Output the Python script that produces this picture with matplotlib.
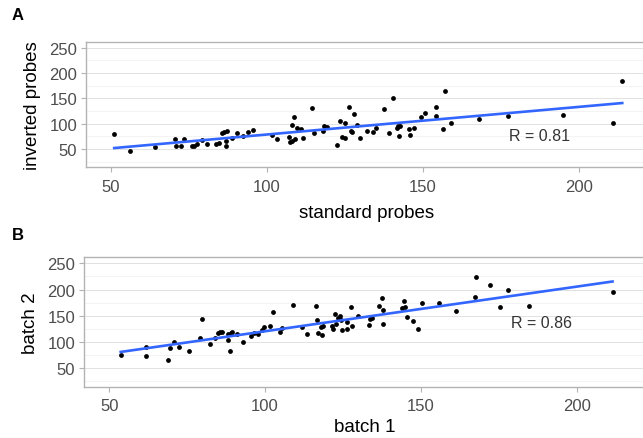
import numpy as np
import matplotlib
matplotlib.use("Agg")
import matplotlib.pyplot as plt
from matplotlib.ticker import MultipleLocator

plt.rcParams['font.family'] = ['Liberation Sans', 'DejaVu Sans']

# panel A: standard vs inverted probes
std_x = [51, 56, 64, 70.5, 70.7, 72.3, 73.4, 75.9, 76.7, 77.7, 79, 80.8, 83.6, 84.6,
         85.7, 86.3, 87.1, 87, 87, 88.7, 90.4, 92.3, 94, 95.4, 101.5, 103.1,
         107.1, 107.4, 107.9, 108.1, 108.7, 109, 109.5, 110.8, 111.6, 114.3, 115.2,
         118, 118.3, 119.1, 122.3, 123.4, 123.9, 125, 125, 126.4, 126.9, 127.3, 128,
         128.7, 129.8, 131.9, 134, 134.8, 137.5, 139.1, 140.4, 141.6, 142.1, 142.6,
         142.3, 145.6, 145.8, 147.1, 149.3, 150.5, 154.1, 154.2, 156.5, 157.2, 158.9,
         168, 177.4, 195, 210.9, 213.9]
inv_y = [80, 46, 53, 70, 55, 56.5, 70, 56.5, 56.5, 59, 68, 59, 60, 61,
         81.5, 84, 86, 65.7, 56.5, 71, 81, 76, 84, 88, 77.6, 69.7,
         74, 63, 66, 97, 113.6, 69.7, 90.7, 89.4, 71.7, 130, 81.5,
         86, 94.7, 92.7, 58.5, 105.7, 74, 71.7, 101, 132.7, 86, 83, 118,
         97, 72, 85.4, 83, 90.7, 129, 82, 150.4, 92, 94.7, 96,
         75, 89.4, 77, 90.7, 113.6, 120.9, 133.3, 114.3, 89.4, 164.8, 101.8,
         110, 115, 117.5, 101.8, 184]

# panel B: batch 1 vs batch 2
b1_x = [53.7, 61.9, 61.9, 68.8, 69.4, 70.9, 72.3, 75.7, 79.1, 79.9, 82.3, 84, 84.8,
        85.6, 86.3, 88, 88.2, 89, 89.3, 88.6, 90.9, 93, 95.5, 96.3, 97.7, 99, 99.5,
        101.6, 102.5, 104.8, 105.5, 108.8, 111.8, 113.4, 116.3, 116.7, 117.1, 118.2,
        118, 118.7, 121.4, 121.7, 122.4, 122.8, 123.5, 124, 124.4, 124.8, 126.2,
        126.2, 127.6, 128, 129.7, 133.3, 133.7, 134.2, 136.5, 137.6, 137.9, 137.9,
        144, 144.4, 144.9, 145.4, 147.3, 149.1, 150.2, 155.8, 161.2, 167.6, 167.3,
        172.1, 175.3, 178, 184.6, 211.4]
b2_y = [74, 90.6, 73.4, 65, 88, 99, 89.4, 81.7, 107.7, 142.7, 95.7, 108, 117,
        119, 118.6, 104, 115.3, 117, 119, 83, 114, 99.5, 111.5, 116.7, 114.8, 122, 128.7,
        130.6, 156, 119, 126, 170, 127.5, 114.8, 168.7, 140.8, 116, 113.4,
        128.7, 130.6, 130, 124.3, 152.3, 134.4, 144.7, 148.5, 141.4, 122.4, 124.3,
        137, 166.8, 129.4, 148.5, 131.9, 143.3, 144.7, 168.7, 183.3, 161, 133.8,
        164.3, 178.2, 165.6, 146.6, 139, 124.3, 175.1, 175.1, 158.6, 223.3, 185.2,
        208, 166.2, 199, 168, 195.3]

panels = [
    ("A", std_x, inv_y, "standard probes", "inverted probes", "R = 0.81", [0.134, 0.617, 0.873, 0.286], 7),
    ("B", b1_x, b2_y, "batch 1", "batch 2", "R = 0.86", [0.131, 0.117, 0.873, 0.295], 3),
]

fig = plt.figure(figsize=(6.43, 4.39), dpi=100)

for tag, xs, ys, xlab, ylab, rtxt, pos, xpad in panels:
    ax = fig.add_axes(pos)
    xs = np.array(xs)
    ys = np.array(ys)
    ax.scatter(xs, ys, s=12, color='black', zorder=3, linewidths=0)
    # linear fit, like geom_smooth(method = "lm")
    k, b = np.polyfit(xs, ys, 1)
    xx = np.array([xs.min(), xs.max()])
    ax.plot(xx, k * xx + b, color='#3366FF', lw=1.9, zorder=4)
    r_x, r_y = (187.5, 77) if tag == "A" else (188.5, 137)
    ax.text(r_x, r_y, rtxt, ha='center', va='center', fontsize=11.5, color='#333333')

    ax.set_xlim(42, 222)
    ax.set_ylim(14, 262)
    ax.xaxis.set_major_locator(MultipleLocator(50))
    ax.yaxis.set_minor_locator(MultipleLocator(25))
    ax.set_yticks([50, 100, 150, 200, 250])
    ax.grid(axis='y', which='major', color='#E2E2E2', lw=0.7)
    ax.grid(axis='y', which='minor', color='#EEEEEE', lw=0.5)
    ax.set_axisbelow(True)
    ax.tick_params(which='minor', length=0)
    ax.tick_params(which='major', length=3.5, width=0.8, color='#B3B3B3',
                   labelsize=12, labelcolor='#4D4D4D', pad=3)
    ax.tick_params(axis='x', pad=5)
    for sp in ax.spines.values():
        sp.set_color('#B3B3B3')
        sp.set_linewidth(1.0)
    ax.set_xlabel(xlab, fontsize=13.5, labelpad=xpad)
    ax.set_ylabel(ylab, fontsize=13.5, labelpad=6)

fig.text(12 / 643, 1 - 15 / 439, "A", fontsize=12, fontweight='bold', va='center')
fig.text(12 / 643, 1 - 236 / 439, "B", fontsize=12, fontweight='bold', va='center')

fig.savefig("out.png", dpi=100)
